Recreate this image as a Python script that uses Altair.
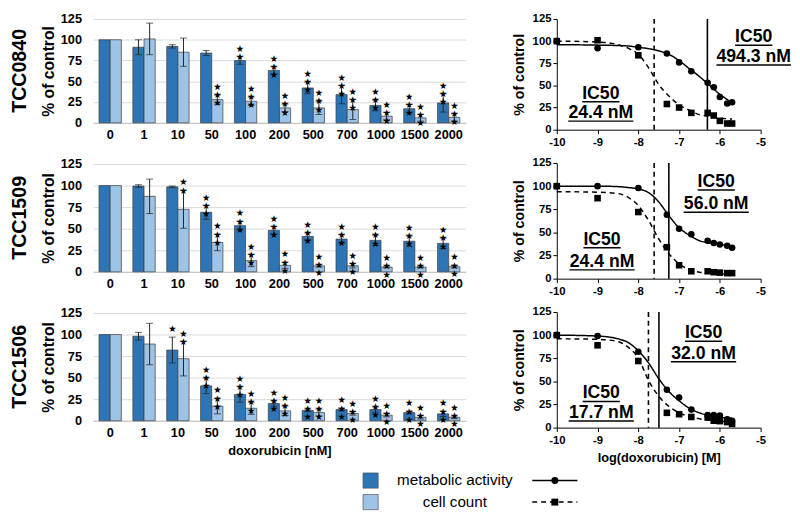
import math
import altair as alt
import pandas as pd

FONT = "Liberation Sans"

# ---------------- data ----------------
conc_labels = ["0", "1", "10", "50", "100", "200", "500", "700", "1000", "1500", "2000"]
log_conc = [-10, -9, -8, -7.3, -7, -6.7, -6.3, -6.15, -6, -5.82, -5.7]
series_names = ["metabolic activity", "cell count"]
cell_lines = ["TCC0840", "TCC1509", "TCC1506"]
bar_colors = ["#2E75B6", "#9DC3E6"]

# bar charts: mean, SD, number of significance stars
met_mean_0840 = [100, 91, 92, 84, 75, 63, 42, 34, 21, 17, 24]
met_sd_0840 = [0, 9, 2, 3, 4.5, 4.5, 7, 11, 6.5, 5, 11]
met_star_0840 = [0, 0, 0, 0, 2, 3, 3, 3, 3, 3, 3]
cc_mean_0840 = [100, 101, 85, 28, 26, 18, 18, 16, 8, 6, 6.5]
cc_sd_0840 = [0, 19, 17, 5.5, 5, 4.5, 8, 12, 4.5, 4, 4.5]
cc_star_0840 = [0, 0, 0, 3, 3, 3, 3, 3, 3, 3, 3]

met_mean_1509 = [100, 99.5, 98.5, 69, 53.5, 48, 41, 38, 36.5, 35.5, 33]
met_sd_1509 = [0, 1.5, 1, 8, 5, 4.5, 4, 5, 6, 6, 6]
met_star_1509 = [0, 0, 0, 3, 3, 3, 3, 3, 3, 3, 3]
cc_mean_1509 = [100, 87.5, 72.5, 34, 13, 7.5, 7, 7, 5.5, 5.5, 6]
cc_sd_1509 = [0, 20, 22, 9.5, 7, 3.5, 1.5, 2.5, 1, 1, 1.5]
cc_star_1509 = [0, 0, 2, 3, 3, 3, 3, 3, 3, 3, 3]

met_mean_1506 = [100, 98, 82, 40.5, 30.5, 20, 12, 13, 13, 9.5, 8]
met_sd_1506 = [0, 4.5, 15, 9, 9, 3, 1.5, 1.5, 3, 1.5, 3]
met_star_1506 = [0, 0, 1, 3, 3, 3, 3, 3, 3, 3, 3]
cc_mean_1506 = [100, 89, 72, 17, 14.5, 11.5, 9.5, 8.5, 6.5, 4, 4]
cc_sd_1506 = [0, 24, 20, 9, 7, 5.5, 4, 2, 2, 2, 1.5]
cc_star_1506 = [0, 0, 2, 3, 3, 3, 3, 3, 3, 3, 3]

# dose-response points
pts_met_0840 = [100, 92, 93, 86, 76, 66, 53, 48, 37, 29.5, 31]
pts_cc_0840 = [100, 101, 84, 29, 25, 19, 19, 16, 10, 7, 7]
pts_met_1509 = [100, 100, 98, 69, 54, 48, 41, 38.5, 37, 35.5, 33.5]
pts_cc_1509 = [100, 87, 72, 34, 14.5, 8, 8, 7, 6.5, 6, 6]
pts_met_1506 = [100, 99, 82, 41, 32.5, 19.5, 13.5, 13.5, 13, 9, 7.5]
pts_cc_1506 = [100, 89, 72, 16, 14.5, 11.5, 11, 7.5, 7, 6, 4]

# fitted curves
fit_x = [-10, -9, -8.5, -8.25, -8, -7.75, -7.5, -7.25, -7, -6.75, -6.5, -6.25, -6, -5.85, -5.7]
fit_met_0840 = [96, 95.5, 95, 94.5, 93, 91.5, 89, 85, 78, 69, 60, 50, 40, 35, 30]
fit_cc_0840 = [100, 99, 96, 92, 85, 70, 51, 38, 28, 22, 17, 15, 13, 12.5, 12]
fit_met_1509 = [100, 100, 99.5, 98.5, 97, 93, 83, 68, 55, 47, 41, 38.5, 37, 36, 35]
fit_cc_1509 = [94, 93.5, 92, 88, 79, 63, 43, 27, 16, 10, 7, 6, 5.5, 5, 5]
fit_met_1506 = [100, 99, 96, 92, 83, 70, 53, 39, 29, 21, 16, 13, 11, 10.5, 10]
fit_cc_1506 = [96, 95.5, 93, 87, 75, 51, 34, 23, 16, 12, 9.5, 8, 7, 6.5, 6]

# IC50 values (nM)
ic50_met_nM = [494.3, 56.0, 32.0]
ic50_cc_nM = [24.4, 24.4, 17.7]

# annotation anchors (log M, % of control)
ann_met_x = [-5.17, -6.09, -6.4]
ann_met_y1 = [98.6, 99, 96.6]
ann_met_y2 = [76.4, 75, 74.3]
ann_cc_x = [-8.92, -8.89, -8.91]
ann_cc_y1 = [35, 36.7, 31.5]
ann_cc_y2 = [13, 12.7, 10.3]

# ---------------- layout constants ----------------
BAR_W = 380
BAR_HS = [106, 110, 110]
CUR_W = 208
CUR_HS = [113, 118, 118]
LEG_X0 = 89  # page x of the legend view origin
Y_MAX = 125
Y_TICKS = [0, 25, 50, 75, 100, 125]

bar_sets = [
    (met_mean_0840, met_sd_0840, met_star_0840, cc_mean_0840, cc_sd_0840, cc_star_0840),
    (met_mean_1509, met_sd_1509, met_star_1509, cc_mean_1509, cc_sd_1509, cc_star_1509),
    (met_mean_1506, met_sd_1506, met_star_1506, cc_mean_1506, cc_sd_1506, cc_star_1506),
]
pt_sets = [(pts_met_0840, pts_cc_0840), (pts_met_1509, pts_cc_1509), (pts_met_1506, pts_cc_1506)]
fit_sets = [(fit_met_0840, fit_cc_0840), (fit_met_1509, fit_cc_1509), (fit_met_1506, fit_cc_1506)]

Y_TITLE = "% of control"
STAR = "\u2605"


def bar_frame(vals):
    mm, ms, mst, cm, cs, cst = vals
    rows = []
    for k, c in enumerate(conc_labels):
        for s, mean, sd, st in ((series_names[0], mm[k], ms[k], mst[k]),
                                (series_names[1], cm[k], cs[k], cst[k])):
            rows.append(dict(conc=c, series=s, mean=mean, sd=sd, lo=mean - sd, hi=mean + sd,
                             stars="\n".join([STAR] * st)))
    return pd.DataFrame(rows)


def bar_panel(i, last):
    name, vals, height = cell_lines[i], bar_sets[i], BAR_HS[i]
    df = bar_frame(vals)
    base = alt.Chart(df)
    xaxis = alt.Axis(labelAngle=0, labelFont=FONT, labelFontSize=13, labelFontWeight="bold",
                     labelColor="black", labelPadding=6, ticks=False, domainColor="#bfbfbf",
                     labelOverlap=False,
                     titleFont=FONT, titleFontSize=13, titleFontWeight="bold", titleColor="black",
                     titlePadding=5)
    x = alt.X("conc:N", sort=conc_labels,
              scale=alt.Scale(domain=conc_labels, paddingInner=0.34, paddingOuter=0.17),
              axis=xaxis, title=("doxorubicin [nM]" if last else None))
    xo = alt.XOffset("series:N", sort=series_names, scale=alt.Scale(domain=series_names))
    ys = alt.Scale(domain=[0, Y_MAX], nice=False)
    yaxis = alt.Axis(values=Y_TICKS, tickCount=len(Y_TICKS), grid=True, gridColor="#d9d9d9",
                     domain=False, ticks=False, labelFont=FONT, labelFontSize=13,
                     labelFontWeight="bold", labelColor="black", labelPadding=12,
                     labelOverlap=False,
                     titleFont=FONT, titleFontSize=16, titleFontWeight="bold",
                     titleColor="black", titlePadding=4)
    bars = base.mark_bar(stroke="#3a3a3a", strokeWidth=0.7).encode(
        x=x, xOffset=xo,
        y=alt.Y("mean:Q", scale=ys, axis=yaxis, title=Y_TITLE),
        color=alt.Color("series:N", scale=alt.Scale(domain=series_names, range=bar_colors), legend=None),
    )
    eb = base.transform_filter("datum.sd > 0")
    err = eb.mark_rule(color="#222222", strokeWidth=1).encode(
        x=x, xOffset=xo, y=alt.Y("lo:Q", scale=ys, title=Y_TITLE), y2="hi:Q")
    cap_hi = eb.mark_tick(color="#222222", size=7, thickness=1).encode(
        x=x, xOffset=xo, y=alt.Y("hi:Q", scale=ys, title=Y_TITLE))
    cap_lo = eb.mark_tick(color="#222222", size=7, thickness=1).encode(
        x=x, xOffset=xo, y=alt.Y("lo:Q", scale=ys, title=Y_TITLE))
    stars = base.transform_filter("datum.stars != ''").mark_text(
        font="DejaVu Sans", fontSize=9.5, lineHeight=8.3, lineBreak="\n", baseline="bottom",
        align="center", color="black", dy=-3).encode(
        x=x, xOffset=xo, y=alt.Y("hi:Q", scale=ys, title=Y_TITLE), text="stars:N")
    return alt.layer(bars, err, cap_hi, cap_lo, stars).properties(
        width=BAR_W, height=height,
        title=alt.TitleParams(text=name, orient="left", font=FONT, fontSize=20,
                              fontWeight="bold", color="black", offset=11, anchor="middle"))


def curve_panel(i, last):
    height = CUR_HS[i]
    met_pts, cc_pts = pt_sets[i]
    met_fit, cc_fit = fit_sets[i]
    pts = pd.DataFrame({
        "lx": log_conc * 2,
        "val": met_pts + cc_pts,
        "series": [series_names[0]] * len(log_conc) + [series_names[1]] * len(log_conc),
    })
    fit = pd.DataFrame({
        "fx": fit_x * 2,
        "fval": met_fit + cc_fit,
        "series": [series_names[0]] * len(fit_x) + [series_names[1]] * len(fit_x),
    })
    vl = pd.DataFrame({
        "ic": [math.log10(ic50_met_nM[i] * 1e-9), math.log10(ic50_cc_nM[i] * 1e-9)],
        "series": series_names,
    })
    labels = ["IC50", f"{ic50_met_nM[i]:.1f} nM", "IC50", f"{ic50_cc_nM[i]:.1f} nM"]
    ax = [ann_met_x[i], ann_met_x[i], ann_cc_x[i], ann_cc_x[i]]
    ay = [ann_met_y1[i], ann_met_y2[i], ann_cc_y1[i], ann_cc_y2[i]]
    px_per_unit = CUR_W / 5.0
    half = [9.5 * len(t) / 2 / px_per_unit for t in labels]
    ann = pd.DataFrame({"ax": ax, "ay": ay, "label": labels,
                        "ux": [a - h for a, h in zip(ax, half)],
                        "ux2": [a + h for a, h in zip(ax, half)]})

    x_ticks = [-10, -9, -8, -7, -6, -5]
    xs = alt.Scale(domain=[-10, -5], nice=False)
    ys = alt.Scale(domain=[0, Y_MAX], nice=False)
    xaxis = alt.Axis(values=x_ticks, tickCount=len(x_ticks), labelExpr="'' + datum.value",
                     grid=False, domainColor="black", tickColor="black", tickSize=4,
                     labelFont=FONT, labelFontSize=11.5, labelFontWeight="bold",
                     labelColor="black", labelPadding=3, labelOverlap=False, labelFlush=False,
                     titleFont=FONT, titleFontSize=13, titleFontWeight="bold",
                     titleColor="black", titlePadding=6)
    yaxis = alt.Axis(values=Y_TICKS, tickCount=len(Y_TICKS), grid=False, domainColor="black",
                     tickColor="black", tickSize=4, labelFont=FONT, labelFontSize=11.5,
                     labelFontWeight="bold", labelColor="black", labelPadding=2,
                     labelOverlap=False,
                     titleFont=FONT, titleFontSize=14.5, titleFontWeight="bold",
                     titleColor="black", titlePadding=6)
    xtitle = "log(doxorubicin) [M]" if last else None
    dash = alt.StrokeDash("series:N", scale=alt.Scale(domain=series_names, range=[[1, 0], [5, 4]]),
                          legend=None)
    shape = alt.Shape("series:N", scale=alt.Scale(domain=series_names, range=["circle", "square"]),
                      legend=None)

    lines = alt.Chart(fit).mark_line(color="black", strokeWidth=1.5, interpolate="monotone").encode(
        x=alt.X("fx:Q", scale=xs, axis=xaxis, title=xtitle),
        y=alt.Y("fval:Q", scale=ys, axis=yaxis, title=Y_TITLE),
        strokeDash=dash, detail="series:N")
    points = alt.Chart(pts).mark_point(filled=True, color="black", opacity=1, size=45).encode(
        x=alt.X("lx:Q", scale=xs, title=xtitle), y=alt.Y("val:Q", scale=ys, title=Y_TITLE),
        shape=shape)
    vlines = alt.Chart(vl).mark_rule(color="black", strokeWidth=1.6).encode(
        x=alt.X("ic:Q", scale=xs, title=xtitle), y=alt.value(0), y2=alt.value(height),
        strokeDash=dash)
    texts = alt.Chart(ann).mark_text(font=FONT, fontSize=18, fontWeight="bold",
                                     baseline="alphabetic", align="center", color="black").encode(
        x=alt.X("ax:Q", scale=xs, title=xtitle), y=alt.Y("ay:Q", scale=ys, title=Y_TITLE),
        text="label:N")
    underline = alt.Chart(ann).mark_rule(color="black", strokeWidth=1.5, yOffset=3).encode(
        x=alt.X("ux:Q", scale=xs, title=xtitle), x2="ux2:Q",
        y=alt.Y("ay:Q", scale=ys, title=Y_TITLE))
    return alt.layer(lines, vlines, points, texts, underline).properties(
        width=CUR_W, height=height)


left_col = alt.vconcat(*[bar_panel(i, i == 2) for i in range(3)], spacing=17)
right_col = alt.vconcat(*[curve_panel(i, i == 2) for i in range(3)], spacing=9)
top = alt.hconcat(left_col, right_col, spacing=46)

# custom legend
leg = pd.DataFrame({"series": series_names, "row": list(range(len(series_names)))})
ly = alt.Y("row:Q", scale=alt.Scale(domain=[0, 1], range=[14, 36]), axis=None)
legend_sq = alt.Chart(leg).mark_square(size=240, opacity=1, stroke="#555555", strokeWidth=0.7).encode(
    x=alt.value(372 - LEG_X0), y=ly,
    color=alt.Color("series:N", scale=alt.Scale(domain=series_names, range=bar_colors), legend=None))
legend_txt = alt.Chart(leg).mark_text(font=FONT, fontSize=15.5, align="center", baseline="middle",
                                      color="black").encode(x=alt.value(458 - LEG_X0), y=ly, text="series:N")
legend_ln = alt.Chart(leg).mark_rule(color="black", strokeWidth=1.5).encode(
    x=alt.value(537 - LEG_X0), x2=alt.value(583 - LEG_X0), y=ly,
    strokeDash=alt.StrokeDash("series:N", scale=alt.Scale(domain=series_names, range=[[1, 0], [5, 4]]),
                              legend=None))
legend_pt = alt.Chart(leg).mark_point(filled=True, color="black", opacity=1, size=50).encode(
    x=alt.value(560 - LEG_X0), y=ly,
    shape=alt.Shape("series:N", scale=alt.Scale(domain=series_names, range=["circle", "square"]),
                    legend=None))
legend_chart = alt.layer(legend_sq, legend_txt, legend_ln, legend_pt).properties(width=600, height=42)

chart = alt.vconcat(top, legend_chart, spacing=2).properties(
    padding={"left": 2, "top": 0, "right": 0, "bottom": 0}, background="white"
).configure_view(strokeWidth=0, stroke="transparent")

chart.save("out.html", embed_options={"renderer": "svg", "actions": False})
